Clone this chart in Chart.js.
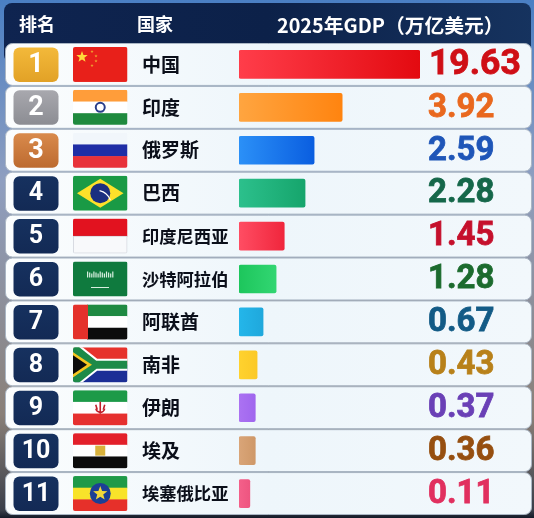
<!DOCTYPE html>
<html>
<head>
<meta charset="utf-8">
<style>
  html, body { margin: 0; padding: 0; background: #16294f; }
  canvas { display: block; }
</style>
<script src="https://cdn.jsdelivr.net/npm/chart.js@4/dist/chart.umd.js"></script>
</head>
<body>
<canvas id="grafico" width="534" height="518"></canvas>
<script>
// Dados
const paises = ['中国', '印度', '俄罗斯', '巴西', '印度尼西亚', '沙特阿拉伯', '阿联酋', '南非', '伊朗', '埃及', '埃塞俄比亚'];
const ranks = [1, 2, 3, 4, 5, 6, 7, 8, 9, 10, 11];
const gdp = ['19.63', '3.92', '2.59', '2.28', '1.45', '1.28', '0.67', '0.43', '0.37', '0.36', '0.11'];
// As barras do original nao sao proporcionais ao GDP: comprimento lido como % da maior barra
const comprimentoBarras = [100, 57, 41.5, 36.5, 25, 20.5, 13.3, 10, 9, 9, 6];
const coresInicio = ['#ff3d4a', '#ffa540', '#2b90f7', '#2cc08c', '#ff4d63', '#1dc65c', '#24b6ea', '#ffd22e', '#ab72f2', '#d9a578', '#f4608a'];
const coresFim = ['#e30a10', '#ff8410', '#0a5ee0', '#16a56c', '#f0263c', '#32d672', '#1fa8dc', '#fbc926', '#a066ee', '#cf9868', '#ee5580'];
const coresValor = ['#cf0f16', '#e9681e', '#1f56b8', '#15674a', '#c5102c', '#1c6b2e', '#135b86', '#b8811a', '#6a40b6', '#964f10', '#e1305f'];
const titulos = ['排名', '国家', '2025年GDP（万亿美元）'];

const FONTE = '"Noto Sans CJK SC", "Noto Sans", sans-serif';

// Estrela de cinco pontas
function estrela(c, x, y, r, cor) {
    c.fillStyle = cor;
    c.beginPath();
    for (let i = 0; i < 10; i++) {
        const raio = i % 2 ? r * 0.42 : r;
        const a = -Math.PI / 2 + i * Math.PI / 5;
        c.lineTo(x + Math.cos(a) * raio, y + Math.sin(a) * raio);
    }
    c.closePath();
    c.fill();
}

// Faixas horizontais iguais
function faixas(c, x, y, w, h, cores) {
    cores.forEach((cor, i) => {
        c.fillStyle = cor;
        c.fillRect(x, y + i * h / cores.length, w, h / cores.length + 0.5);
    });
}

function poligono(c, cor, pontos) {
    c.fillStyle = cor;
    c.beginPath();
    pontos.forEach(p => c.lineTo(p[0], p[1]));
    c.closePath();
    c.fill();
}

// Uma função de desenho para cada bandeira
const bandeiras = [
    (c, x, y, w, h) => {
        c.fillStyle = '#e8201a';
        c.fillRect(x, y, w, h);
        estrela(c, x + 9, y + 10, 6, '#ffd83a');
        estrela(c, x + 19, y + 4.5, 1.7, '#f0a030');
        estrela(c, x + 23, y + 9, 1.7, '#f0a030');
        estrela(c, x + 23, y + 14, 1.7, '#f0a030');
        estrela(c, x + 19, y + 18.5, 1.7, '#f0a030');
    },
    (c, x, y, w, h) => {
        faixas(c, x, y, w, h, ['#ff9d3a', '#ffffff', '#1f8a3e']);
        c.strokeStyle = '#2a3f8a';
        c.lineWidth = 2;
        c.beginPath();
        c.arc(x + w / 2, y + h / 2, 4.5, 0, Math.PI * 2);
        c.stroke();
    },
    (c, x, y, w, h) => {
        faixas(c, x, y, w, h, ['#f1f6fb', '#1f2ea6', '#e8323a']);
    },
    (c, x, y, w, h) => {
        c.fillStyle = '#1a9a45';
        c.fillRect(x, y, w, h);
        poligono(c, '#fde12a', [[x + 4, y + h / 2], [x + w / 2, y + 3], [x + w - 4, y + h / 2], [x + w / 2, y + h - 3]]);
        c.fillStyle = '#1b2f80';
        c.beginPath();
        c.arc(x + w / 2, y + h / 2, 10, 0, Math.PI * 2);
        c.fill();
        c.strokeStyle = '#ffffff';
        c.lineWidth = 1.2;
        c.beginPath();
        c.arc(x + w / 2 - 4, y + h / 2 + 12, 15, -1.35, -0.35);
        c.stroke();
    },
    (c, x, y, w, h) => {
        faixas(c, x, y, w, h, ['#e2121f', '#f8f9fb']);
        c.strokeStyle = 'rgba(120,130,150,0.25)';
        c.lineWidth = 1;
        c.strokeRect(x + 0.5, y + h / 2, w - 1, h / 2 - 0.5);
    },
    (c, x, y, w, h) => {
        c.fillStyle = '#0f7a3e';
        c.fillRect(x, y, w, h);
        c.fillStyle = '#d8efe0';
        for (let i = 0; i < 13; i++) {
            c.fillRect(x + 14 + i * 2.1, y + 10 + (i % 3), 1.2, 6 - (i % 3));
        }
        c.fillRect(x + 18, y + 25.5, 18, 1);
    },
    (c, x, y, w, h) => {
        faixas(c, x + 14, y, w - 14, h, ['#1f8a42', '#ffffff', '#0c0c0c']);
        c.fillStyle = '#e4312b';
        c.fillRect(x, y, 15, h);
    },
    (c, x, y, w, h) => {
        faixas(c, x, y, w, h, ['#e6322c', '#1b2f96']);
        const cy = y + h / 2;
        c.strokeStyle = '#ffffff';
        c.lineWidth = 12;
        c.beginPath();
        c.moveTo(x, y);
        c.lineTo(x + 22, cy);
        c.lineTo(x + w, cy);
        c.moveTo(x, y + h);
        c.lineTo(x + 22, cy);
        c.stroke();
        c.strokeStyle = '#1d8a48';
        c.lineWidth = 8;
        c.stroke();
        poligono(c, '#f7c61f', [[x, y + 5], [x + 19, cy], [x, y + h - 5]]);
        poligono(c, '#0c0c0c', [[x, y + 8], [x + 14, cy], [x, y + h - 8]]);
    },
    (c, x, y, w, h) => {
        faixas(c, x, y, w, h, ['#1d9a48', '#ffffff', '#e6302f']);
        c.strokeStyle = '#c21f2a';
        c.lineWidth = 1.6;
        c.beginPath();
        c.arc(x + w / 2, y + h / 2, 4.5, 0.2, Math.PI - 0.2);
        c.moveTo(x + w / 2, y + h / 2 - 6);
        c.lineTo(x + w / 2, y + h / 2 + 6);
        c.moveTo(x + w / 2 - 4.5, y + h / 2 - 3);
        c.lineTo(x + w / 2 - 3, y + h / 2 + 2);
        c.moveTo(x + w / 2 + 4.5, y + h / 2 - 3);
        c.lineTo(x + w / 2 + 3, y + h / 2 + 2);
        c.stroke();
    },
    (c, x, y, w, h) => {
        faixas(c, x, y, w, h, ['#e3202a', '#ffffff', '#0c0c0c']);
        c.fillStyle = '#d9b23c';
        c.fillRect(x + w / 2 - 5, y + h / 2 - 5, 10, 10);
    },
    (c, x, y, w, h) => {
        faixas(c, x, y, w, h, ['#1f9a48', '#f8e32a', '#e6302a']);
        c.fillStyle = '#1c3f95';
        c.beginPath();
        c.arc(x + w / 2, y + h / 2, 10.5, 0, Math.PI * 2);
        c.fill();
        estrela(c, x + w / 2, y + h / 2, 7.5, '#f3d83a');
    }
];

function gradienteBadge(c, y, i) {
    const g = c.createLinearGradient(0, y - 17, 0, y + 17);
    if (i === 0) { g.addColorStop(0, '#f3b93a'); g.addColorStop(1, '#e2a227'); }
    else if (i === 1) { g.addColorStop(0, '#a8a8ae'); g.addColorStop(1, '#8c8d93'); }
    else if (i === 2) { g.addColorStop(0, '#d98a4c'); g.addColorStop(1, '#bd6b30'); }
    else { g.addColorStop(0, '#16315f'); g.addColorStop(1, '#132a55'); }
    return g;
}

// Fundo, cabeçalho e linhas da tabela (por baixo das barras)
const fundoTabela = {
    id: 'fundoTabela',
    beforeDraw(chart) {
        const c = chart.ctx;
        const escalaY = chart.scales.y;
        const passo = escalaY.getPixelForValue(1) - escalaY.getPixelForValue(0);

        const fundo = c.createLinearGradient(0, 0, 0, 518);
        fundo.addColorStop(0, '#4a7fc4');
        fundo.addColorStop(0.35, '#8f9fc0');
        fundo.addColorStop(0.8, '#8a8078');
        fundo.addColorStop(0.985, '#3a3f4a');
        fundo.addColorStop(1, '#141a28');
        c.fillStyle = fundo;
        c.fillRect(0, 0, 534, 518);

        const cab = c.createLinearGradient(0, 0, 534, 0);
        cab.addColorStop(0, '#0f2450');
        cab.addColorStop(0.5, '#0c2149');
        cab.addColorStop(1, '#16335f');
        c.fillStyle = cab;
        c.beginPath();
        c.roundRect(4, 3, 527, 60, 8);
        c.fill();

        paises.forEach((_, i) => {
            const y = escalaY.getPixelForValue(i);
            const g = c.createLinearGradient(5, 0, 531, 0);
            g.addColorStop(0, '#fbfdfe');
            g.addColorStop(0.5, '#eef6fb');
            g.addColorStop(1, '#f2f8fc');
            c.fillStyle = g;
            c.strokeStyle = '#aab6c4';
            c.lineWidth = 1;
            c.beginPath();
            c.roundRect(5.5, y - passo / 2 + 0.5, 526, passo - 1, 7);
            c.fill();
            c.stroke();
        });

        c.fillStyle = '#ffffff';
        c.textBaseline = 'middle';
        c.textAlign = 'left';
        c.font = 'bold 18px ' + FONTE;
        c.fillText(titulos[0], 19, 24);
        c.fillText(titulos[1], 137, 24);
        c.font = 'bold 19.8px ' + FONTE;
        c.fillText(titulos[2], 277, 25);
    }
};

// Selos, bandeiras e valores (por cima)
const detalhesLinha = {
    id: 'detalhesLinha',
    afterDatasetsDraw(chart) {
        const c = chart.ctx;
        const escalaY = chart.scales.y;
        paises.forEach((_, i) => {
            const y = escalaY.getPixelForValue(i);

            c.fillStyle = gradienteBadge(c, y, i);
            c.beginPath();
            c.roundRect(13.5, y - 17, 45, 34.5, 6);
            c.fill();
            c.fillStyle = '#ffffff';
            c.textAlign = 'center';
            c.textBaseline = 'middle';
            c.font = 'bold ' + (i < 3 ? 27 : 25) + 'px Roboto, ' + FONTE;
            c.fillText(String(ranks[i]), 36, y + 1);

            c.save();
            c.beginPath();
            c.roundRect(73, y - 17.5, 54.5, 35, 2);
            c.clip();
            bandeiras[i](c, 73, y - 17.5, 54.5, 35);
            c.restore();

            c.fillStyle = coresValor[i];
            c.strokeStyle = coresValor[i];
            c.lineWidth = 0.8;
            c.textAlign = 'left';
            c.font = 'bold ' + (i === 0 ? 35.5 : 33) + 'px Roboto, sans-serif';
            c.fillText(gdp[i], i === 0 ? 429 : 428, y + 1);
            c.strokeText(gdp[i], i === 0 ? 429 : 428, y + 1);
        });
    }
};

new Chart(document.getElementById('grafico').getContext('2d'), {
    type: 'bar',
    data: {
        labels: paises,
        datasets: [{
            data: comprimentoBarras,
            barThickness: 28,
            borderRadius: 2,
            borderSkipped: false,
            backgroundColor(ctx) {
                const area = ctx.chart.chartArea;
                const i = ctx.dataIndex;
                if (!area || i === undefined) return '#888888';
                const fim = area.left + area.width * comprimentoBarras[i] / 100;
                const g = ctx.chart.ctx.createLinearGradient(area.left, 0, fim, 0);
                g.addColorStop(0, coresInicio[i]);
                g.addColorStop(1, coresFim[i]);
                return g;
            }
        }]
    },
    options: {
        indexAxis: 'y',
        responsive: false,
        animation: false,
        layout: { padding: { left: 142, right: 114, top: 43, bottom: 3 } },
        plugins: { legend: { display: false }, tooltip: { enabled: false } },
        scales: {
            x: { display: false, min: 0, max: 100 },
            y: {
                afterFit(escala) {
                    escala.width = 97;
                    escala.paddingTop = 0;
                    escala.paddingBottom = 0;
                },
                grid: { display: false, drawTicks: false },
                border: { display: false },
                ticks: {
                    crossAlign: 'far',
                    color: '#0b0f1a',
                    autoSkip: false,
                    font(ctx) {
                        const nome = paises[ctx.index] || '';
                        return { family: FONTE, weight: 'bold', size: nome.length >= 5 ? 17.3 : 19 };
                    }
                }
            }
        }
    },
    plugins: [fundoTabela, detalhesLinha]
});
</script>
</body>
</html>
